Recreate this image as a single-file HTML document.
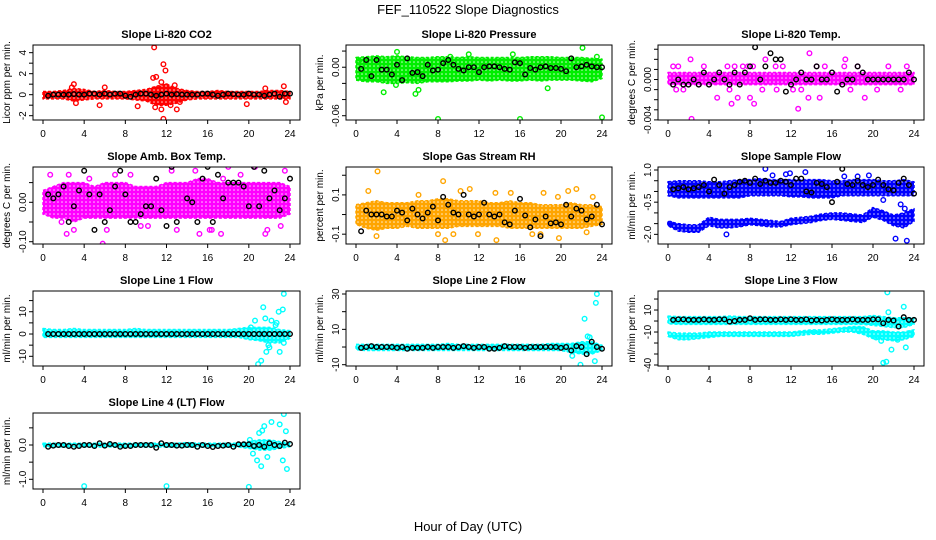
<!DOCTYPE html>
<html><head><meta charset="utf-8"><style>
html,body{margin:0;padding:0;background:#fff;}
svg{display:block;font-family:"Liberation Sans",sans-serif;}
</style></head><body>
<svg id="chart" width="936" height="540" viewBox="0 0 936 540" xmlns="http://www.w3.org/2000/svg">
<defs id="defs"></defs>
<text x="468" y="14" text-anchor="middle" font-size="13">FEF_110522  Slope Diagnostics</text>
<text x="468" y="531" text-anchor="middle" font-size="13">Hour of Day (UTC)</text>
</svg>
<script>
const xTicks=[0,4,8,12,16,20,24];
const bandHours=[0,1,2,3,4,5,6,7,8,9,10,11,12,13,14,15,16,17,18,19,20,21,22,23,24];
// Panel 1 CO2
const co2BandHi=[0.3,0.3,0.4,0.6,0.5,0.3,0.4,0.3,0.3,0.4,0.5,0.8,1.0,0.6,0.4,0.3,0.3,0.4,0.3,0.3,0.3,0.3,0.4,0.4,0.3];
const co2BandLo=[-0.4,-0.4,-0.4,-0.6,-0.5,-0.4,-0.4,-0.4,-0.4,-0.5,-0.6,-1.0,-1.0,-0.8,-0.5,-0.4,-0.4,-0.4,-0.4,-0.4,-0.4,-0.4,-0.4,-0.4,-0.4];
const co2OutX=[10.8,11.7,11.9,10.7,11.0,11.5,11.7,11.5,12.0,12.8,13.0,5.5,3.0,3.2,9.2,10.9,19.8,21.6,23.4,23.6,6.0,2.8,12.4,13.3];
const co2OutY=[4.5,2.9,2.3,1.6,1.7,1.2,-2.3,-1.4,0.8,0.9,-1.4,-1.0,1.0,-0.8,-1.1,-1.2,-0.9,0.6,0.8,-0.7,0.7,0.7,-1.0,-0.7];
const co2Black=[-0.1,0,0,0,0,0.05,0,0,0.1,0.1,0,0.1,0,0.1,0.1,-0.1,-0.2,0,0.1,0.1,0,-0.1,0,0.1,0,0.05,0,0,0,0,0.1,0.1,0,-0.1,0,0.1,0.05,0,0,0.1,0,0,-0.1,0,0.1,-0.2,0.1,0.1];
// Panel 2 pressure
const presBandHi=[0.012,0.013,0.014,0.013,0.014,0.013,0.012,0.012,0.013,0.013,0.012,0.013,0.012,0.012,0.012,0.012,0.012,0.013,0.013,0.013,0.012,0.012,0.012,0.011,0.010];
const presBandLo=[-0.016,-0.018,-0.018,-0.020,-0.020,-0.019,-0.020,-0.018,-0.018,-0.018,-0.017,-0.017,-0.016,-0.017,-0.016,-0.017,-0.017,-0.016,-0.017,-0.016,-0.016,-0.016,-0.017,-0.018,-0.014];
const presOutX=[8,16,24,22.1,4,5.8,2.7,6.1,18.7,15.3,11,23.5,0.3,3.9,9.2];
const presOutY=[-0.064,-0.064,-0.062,0.024,0.019,-0.033,-0.031,-0.028,-0.026,0.016,0.016,0.013,0.008,-0.022,0.013];
const presBlack=[-0.002,0.009,-0.011,0.009,-0.003,-0.003,-0.009,0.003,-0.016,0.011,-0.007,-0.006,-0.011,0.003,-0.004,-0.003,0.005,0.009,0.003,-0.002,-0.004,0,0,-0.006,0,0.001,0.001,0,-0.002,-0.003,0.006,0.005,-0.009,-0.001,-0.003,0,0.001,-0.001,-0.001,-0.002,-0.005,0.011,0,0.001,0.003,0.001,0,0];
// Panel 3 Li-820 temp
const tempBandHi=[0.0007,0.0007,0.0007,0.0007,0.0007,0.0007,0.0007,0.0007,0.0007,0.0007,0.0007,0.0007,0.0007,0.0007,0.0007,0.0007,0.0007,0.0007,0.0007,0.0007,0.0007,0.0007,0.0007,0.0007,0.0007];
const tempBandLo=[-0.0005,-0.0005,-0.0005,-0.0005,-0.0005,-0.0005,-0.0005,-0.0005,-0.0005,-0.0005,-0.0005,-0.0005,-0.0005,-0.0005,-0.0005,-0.0005,-0.0005,-0.0005,-0.0005,-0.0005,-0.0005,-0.0005,-0.0005,-0.0005,-0.0005];
const tempOutX=[2.3,12.7,13.8,17.3,8.4,6.2,13.7,0.5,1.0,2.2,3.5,5.8,6.5,7.3,7.8,8.3,9.5,10.5,11.2,14.5,15.3,17.2,18.5,21.5,23.3,0.8,1.5,4.8,6.0,6.8,8.0,9.2,10.6,12.2,13.0,14.8,17.8,19.2,20.4,22.7];
const tempOutY=[-0.0039,-0.0029,0.0026,0.002,-0.0024,-0.0024,-0.0018,0.0013,0.0013,0.002,0.0013,0.0013,0.0013,0.0013,0.0013,0.0013,0.002,0.0013,0.0013,0.0013,0.0013,0.0013,0.0013,0.0013,0.0013,-0.001,-0.001,-0.0018,-0.001,-0.0018,-0.0018,-0.001,-0.001,-0.001,-0.001,-0.0018,-0.001,-0.0018,-0.001,-0.001];
const tempBlack=[-0.0005,0,-0.0005,-0.0005,0,-0.0005,0.0007,-0.0005,0,0.0007,0,-0.0005,0.0007,-0.0005,0.0007,0.0013,0.0032,0,0.0013,0.0026,0.002,0.002,-0.0012,-0.0005,0,0.0007,0,0,0.0013,0,0,0.0007,-0.0012,-0.0005,0,0,0.0013,0.0007,0,0,0,0,0,0,0,0,0.0007,0];
// Panel 4 amb box temp
const ambBandHi=[0.03,0.04,0.05,0.05,0.05,0.04,0.05,0.05,0.05,0.04,0.04,0.04,0.05,0.05,0.05,0.06,0.06,0.05,0.05,0.05,0.05,0.05,0.05,0.05,0.04];
const ambBandLo=[-0.03,-0.04,-0.04,-0.05,-0.04,-0.04,-0.04,-0.04,-0.04,-0.04,-0.04,-0.04,-0.04,-0.04,-0.04,-0.04,-0.04,-0.04,-0.04,-0.04,-0.04,-0.04,-0.04,-0.04,-0.03];
const ambOutX=[0.7,2.5,2.3,3.0,5.8,4.5,6.2,8.5,9.5,12.5,13.0,14.8,15.2,15.9,16.4,17.3,17.5,18.0,19.2,20.6,21.6,22.3,22.8,23.1,23.5,1.8,7.0,10.2,16.2,21.8];
const ambOutY=[0.07,0.07,-0.08,-0.07,-0.105,0.06,-0.07,0.07,-0.06,0.08,-0.07,0.08,-0.08,0.1,-0.07,-0.08,0.06,0.09,0.07,0.09,-0.08,0.1,0.1,-0.06,0.08,-0.05,0.07,-0.06,-0.07,-0.07];
const ambBlack=[0.02,0.01,0.02,0.04,-0.05,-0.01,0.03,0.08,0.02,-0.07,0.02,-0.05,-0.02,0.04,0.08,0.02,-0.05,-0.05,-0.03,-0.01,-0.01,0.06,-0.02,-0.06,0.09,-0.05,0.10,0.01,0,-0.05,0.06,0.09,-0.05,0.07,0.01,0.05,0.05,0.05,0.04,-0.01,0.09,-0.01,0.08,0.01,0.03,-0.02,0.01,0.06];
// Panel 5 gas stream RH
const rhBandHi=[0.05,0.06,0.07,0.06,0.06,0.06,0.07,0.07,0.08,0.08,0.07,0.07,0.07,0.06,0.06,0.07,0.06,0.06,0.05,0.05,0.05,0.06,0.05,0.05,0.04];
const rhBandLo=[-0.05,-0.07,-0.08,-0.07,-0.07,-0.06,-0.07,-0.07,-0.07,-0.07,-0.06,-0.06,-0.06,-0.06,-0.06,-0.07,-0.07,-0.07,-0.07,-0.07,-0.07,-0.07,-0.07,-0.06,-0.05];
const rhOutX=[2.1,8.5,1.2,6.1,10.2,11.1,13.6,15.1,18.3,19.7,20.7,21.5,23.1,8.0,8.7,9.5,11.9,13.7,17.2,18.0,19.8,22.5,2.0];
const rhOutY=[0.22,0.17,0.12,0.1,0.12,0.13,0.11,0.11,0.11,0.09,0.12,0.13,0.09,-0.1,-0.13,-0.1,-0.1,-0.13,-0.1,-0.1,-0.12,-0.09,-0.11];
const rhBlack=[-0.085,0.02,0,0,0,-0.01,-0.01,0.02,0.01,-0.03,0.03,0,-0.02,0.01,0.04,-0.03,0.09,0.05,0.01,0,0.1,0,-0.01,0,0.06,0,-0.01,0,-0.04,-0.05,0.02,0.08,-0.005,-0.065,-0.025,-0.11,-0.01,-0.045,-0.04,-0.05,0.05,-0.01,0.03,0.02,-0.025,-0.01,0.05,-0.05];
// Panel 6 sample flow (two clusters)
const flowBandHi=[0.45,0.5,0.5,0.5,0.45,0.45,0.5,0.55,0.55,0.6,0.55,0.55,0.55,0.55,0.55,0.55,0.5,0.5,0.55,0.55,0.55,0.5,0.5,0.55,0.45];
const flowBandLo=[-0.2,-0.3,-0.3,-0.3,-0.3,-0.3,-0.3,-0.3,-0.2,-0.2,-0.2,-0.2,-0.25,-0.25,-0.3,-0.3,-0.3,-0.2,-0.2,-0.2,-0.2,-0.2,-0.2,-0.2,-0.2];
const flowLowHi=[-1.4,-1.5,-1.55,-1.55,-1.2,-1.3,-1.3,-1.3,-1.25,-1.3,-1.35,-1.4,-1.25,-1.2,-1.15,-1.05,-1.0,-1.0,-1.05,-1.1,-0.75,-0.9,-1.1,-1.0,-0.8];
const flowLowLo=[-1.6,-1.85,-1.9,-1.9,-1.6,-1.7,-1.7,-1.65,-1.55,-1.6,-1.65,-1.65,-1.55,-1.5,-1.45,-1.35,-1.3,-1.35,-1.4,-1.45,-1.2,-1.35,-1.6,-1.7,-1.4];
const flowOutX=[9.5,10.2,11.5,11.9,13.4,17.2,18.5,19.6,22.2,23.3,22.7,23.1,21.0,5.7,0.2];
const flowOutY=[1.05,0.75,0.8,0.85,0.9,0.7,0.7,0.75,-2.2,-2.3,-0.6,-0.8,-0.4,-2.0,-1.5];
const flowBlack=[0.1,0.15,0.2,0.1,0.15,0.2,0.3,0.0,0.55,0.3,-0.1,0.2,0.3,0.45,0.5,0.4,0.6,0.35,0.5,0.4,0.4,0.5,0.45,0.3,0.6,0.6,0,-0.05,0.4,0.35,0.2,-0.5,0.45,1.05,0.35,0.3,0.5,0.3,0.2,0.3,0.55,0.3,0.1,0.05,0.4,0.6,0.3,-0.1];
// Panel 7 line 1
const l1BandHi=[2.5,2,2,2.5,2,2,2,2,2,2.5,2,2,2,2,2,2,2,2,2,2.5,3,3,3,2,1.5];
const l1BandLo=[-1.5,-1.5,-1.5,-1.5,-1.5,-1.5,-1.5,-1.5,-1.5,-1.5,-1.5,-1.5,-1.5,-1.5,-1.5,-1.5,-1.5,-1.5,-1.5,-1.5,-2.5,-3,-4,-4,-2];
const l1OutX=[23.4,21.4,21.6,23.3,22.9,20.6,22.2,22.7,22.6,21.9,21.2,20.9,21.7,23.0,23.4,22.0,20.2];
const l1OutY=[18,12,7,11,10,6,6,5,4,-5,-12,-13.5,-8,-8,-4,-6,3];
const l1Black=[0,0,0,0,0,0,0,0,0,0,0,0,0,0,0,0,0,0,0,0,0,0,0,0,0,0,0,0,0,0,0,0,0,0,0,0,0,0,0,0,0,0,0,0,0,0,0,0];
// Panel 8 line 2
const l2BandHi=[1.5,1.5,1.5,1.5,1.5,1.5,1.5,1.5,1.5,2,1.5,1.5,1.5,1.5,1.5,1.5,1.5,1.5,1.5,2,2,2,3,3,1];
const l2BandLo=[-1.5,-2,-2,-2,-2,-2,-2,-2,-2,-2,-2,-2,-2,-2,-2,-2,-2,-2,-2,-2,-2,-3,-4,-4,-2];
const l2OutX=[23.5,23.4,22.3,22.6,22.8,23.3,21.9,21.1,22.5];
const l2OutY=[30,25,16,6,5.5,-8,-10,-5,-4];
const l2Black=[-0.5,0,0.5,0,0,0,0,-0.5,0,-1,-0.5,-0.5,-0.5,0,-0.5,0,0,0,-0.5,0,0.5,0,-0.5,0,0,-1,-1,-0.5,0.5,0,0,0,-0.5,0,0,0,0,0,0,-0.5,0,-2,0.5,0,-4,3,0,-1];
// Panel 9 line 3
const l3BandHi=[4.5,4,4,4,4,4,4.5,4,4,4,4,4,4,4,4,4,4,4,4,4,5,4,3,3,3];
const l3BandLo=[-2.5,-3,-3,-3,-3,-3,-3,-3,-3,-3,-3,-3,-3,-3,-3,-3,-3,-3,-3,-3,-4,-5,-6,-6,-3];
const l3LowHi=[-10,-11,-11,-11,-10,-10,-10,-10,-10,-10,-10,-10,-10,-9,-8,-8,-7,-6,-5,-5,-9,-9,-10,-10,-8];
const l3LowLo=[-14,-17,-17,-16,-15,-14,-14,-14,-14,-14,-14,-14,-14,-13,-12,-12,-11,-10,-10,-12,-16,-17,-18,-17,-14];
const l3OutX=[21.4,21.5,23.0,21.0,21.3,21.8,22.4,23.2,23.6,20.8,20.3];
const l3OutY=[26,8,13,-38,-37,-26,-17,-24,-11,-18,-15];
const l3Black=[1,1.5,1.5,1,1,1,1.5,1,1,1.5,1.5,-0.5,0,1,1,2.5,1,1.5,1.5,1,1,1.5,1,1.5,1,1,1.5,0.5,1,0.5,1,1.5,1,1,1,1.5,1,1,1,1.5,1.5,-2,1,0.5,-5,3.5,1,1];
// Panel 10 line 4 (LT)
const l4BandHi=[0.05,0.05,0.05,0.05,0.05,0.05,0.05,0.05,0.05,0.05,0.05,0.05,0.05,0.05,0.07,0.05,0.05,0.05,0.05,0.05,0.1,0.15,0.15,0.1,0.05];
const l4BandLo=[-0.05,-0.06,-0.06,-0.06,-0.06,-0.06,-0.06,-0.06,-0.06,-0.06,-0.06,-0.06,-0.06,-0.06,-0.06,-0.06,-0.06,-0.06,-0.06,-0.06,-0.1,-0.15,-0.15,-0.1,-0.05];
const l4OutX=[4,12,20,23.4,22.2,23,21.5,23.6,21,23.3,23.7,21.2,20.8,21.8,20.4,21.3,20.1];
const l4OutY=[-1.2,-1.2,-1.22,0.9,0.67,0.6,0.55,0.4,0.35,-0.45,-0.7,-0.62,-0.45,-0.35,-0.25,0.42,0.15];
const l4Black=[-0.05,-0.02,0,0,-0.03,-0.05,-0.03,0,0,-0.03,0.05,-0.02,0.03,0,-0.05,-0.03,-0.03,0,0,0,0,-0.08,0.05,0,0,-0.02,-0.02,0,0,-0.05,0,-0.03,-0.06,-0.03,-0.02,0,-0.05,0.02,0.02,0.02,-0.03,0,-0.05,0.05,0,-0.03,0.07,0.03];

const blackHours=[];for(let i=1;i<=48;i++)blackHours.push(i*0.5);

const panels=[
 {name:'co2',title:'Slope Li-820 CO2',ylab:'Licor ppm per min.',col:'#ff0000',L:33,R:300,T:45,B:120,y0:-2.41,y1:4.73,ticks:[-2,-1,0,1,2,3,4],tl:['-2','','0','','2','','4'],bands:[[co2BandHi,co2BandLo]],ox:co2OutX,oy:co2OutY,bk:co2Black},
 {name:'pressure',title:'Slope Li-820 Pressure',ylab:'kPa per min.',col:'#00ee00',L:346,R:612,T:45,B:120,y0:-0.0653,y1:0.0275,ticks:[0.02,0,-0.02,-0.04,-0.06],tl:['','0.00','','','-0.06'],bands:[[presBandHi,presBandLo]],ox:presOutX,oy:presOutY,bk:presBlack},
 {name:'li820-temp',title:'Slope Li-820 Temp.',ylab:'degrees C per min.',col:'#ff00ff',L:658,R:924,T:45,B:120,y0:-0.00401,y1:0.00342,ticks:[0.003,0.002,0.001,0,-0.001,-0.002,-0.003,-0.004],tl:['','','','0.000','','','','-0.004'],bands:[[tempBandHi,tempBandLo]],ox:tempOutX,oy:tempOutY,bk:tempBlack},
 {name:'amb-box-temp',title:'Slope Amb. Box Temp.',ylab:'degrees C per min.',col:'#ff00ff',L:33,R:300,T:167,B:244,y0:-0.1058,y1:0.0896,ticks:[0.05,0,-0.05,-0.1],tl:['','0.00','','-0.10'],bands:[[ambBandHi,ambBandLo]],ox:ambOutX,oy:ambOutY,bk:ambBlack},
 {name:'gas-stream-rh',title:'Slope Gas Stream RH',ylab:'percent per min.',col:'#ffa500',L:346,R:612,T:167,B:244,y0:-0.150,y1:0.242,ticks:[0.2,0.1,0,-0.1],tl:['','0.1','','-0.1'],bands:[[rhBandHi,rhBandLo]],ox:rhOutX,oy:rhOutY,bk:rhBlack},
 {name:'sample-flow',title:'Slope Sample Flow',ylab:'ml/min per min.',col:'#0000ff',L:658,R:924,T:167,B:244,y0:-2.45,y1:1.14,ticks:[1,0.5,0,-0.5,-1,-1.5,-2],tl:['1.0','','','-0.5','','','-2.0'],bands:[[flowBandHi,flowBandLo],[flowLowHi,flowLowLo]],ox:flowOutX,oy:flowOutY,bk:flowBlack},
 {name:'line1-flow',title:'Slope Line 1 Flow',ylab:'ml/min per min.',col:'#00ffff',L:33,R:300,T:291,B:366,y0:-14.35,y1:19.3,ticks:[15,10,5,0,-5,-10],tl:['','10','','0','','-10'],bands:[[l1BandHi,l1BandLo]],ox:l1OutX,oy:l1OutY,bk:l1Black},
 {name:'line2-flow',title:'Slope Line 2 Flow',ylab:'ml/min per min.',col:'#00ffff',L:346,R:612,T:291,B:366,y0:-10.74,y1:31.7,ticks:[30,20,10,0,-10],tl:['30','','10','','-10'],bands:[[l2BandHi,l2BandLo]],ox:l2OutX,oy:l2OutY,bk:l2Black},
 {name:'line3-flow',title:'Slope Line 3 Flow',ylab:'ml/min per min.',col:'#00ffff',L:658,R:924,T:291,B:366,y0:-40.9,y1:27.3,ticks:[20,10,0,-10,-20,-30,-40],tl:['','10','','-10','','','-40'],bands:[[l3BandHi,l3BandLo],[l3LowHi,l3LowLo]],ox:l3OutX,oy:l3OutY,bk:l3Black},
 {name:'line4-flow',title:'Slope Line 4 (LT) Flow',ylab:'ml/min per min.',col:'#00ffff',L:33,R:300,T:413,B:489,y0:-1.283,y1:0.933,ticks:[0.5,0,-0.5,-1],tl:['','0.0','','-1.0'],bands:[[l4BandHi,l4BandLo]],ox:l4OutX,oy:l4OutY,bk:l4Black}
];

const NS='http://www.w3.org/2000/svg';
const svg=document.getElementById('chart');
const defs=document.getElementById('defs');
function mk(tag,attrs,parent){const e=document.createElementNS(NS,tag);for(const k in attrs)e.setAttribute(k,attrs[k]);parent.appendChild(e);return e;}

panels.forEach(p=>{
 const g=mk('g',{},svg);
 
 
 const xs=h=>p.L+10+(h/24)*(p.R-p.L-20);
 const ys=v=>p.B-(v-p.y0)/(p.y1-p.y0)*(p.B-p.T);
 // ring texture pattern for dense point bands
 const pat=mk('pattern',{id:'pat-'+p.name,width:4,height:4,patternUnits:'userSpaceOnUse'},defs);
 mk('rect',{x:0,y:0,width:4,height:4,fill:p.col},pat);
 mk('circle',{cx:2,cy:2,r:0.8,fill:'#fff','fill-opacity':'0.8'},pat);
 const cp=mk('clipPath',{id:'clip-'+p.name},g);
 mk('rect',{x:p.L,y:p.T,width:p.R-p.L,height:p.B-p.T},cp);
 const pg=mk('g',{'clip-path':'url(#clip-'+p.name+')'},g);
 
 
 p.bands.forEach((b,bi)=>{
  let pts=bandHours.map((h,i)=>xs(h)+','+ys(b[0][i]));
  pts=pts.concat(bandHours.slice().reverse().map((h,j)=>{const i=bandHours.length-1-j;return xs(h)+','+ys(b[1][i]);}));
  const poly=mk('polygon',{points:pts.join(' '),fill:'url(#pat-'+p.name+')',stroke:p.col,'stroke-width':'1.5','stroke-linejoin':'round','stroke-dasharray':'3 2'},pg);
  
  
 });
 p.ox.forEach((h,i)=>{
  const c=mk('circle',{cx:xs(h),cy:ys(p.oy[i]),r:2.3,fill:'none',stroke:p.col,'stroke-width':'1.4'},pg);
  
  
 });
 blackHours.forEach((h,i)=>{
  const c=mk('circle',{cx:xs(h),cy:ys(p.bk[i]),r:2.3,fill:'none',stroke:'#000','stroke-width':'1.4'},pg);
  
  
 });
 const box=mk('rect',{x:p.L,y:p.T,width:p.R-p.L,height:p.B-p.T,fill:'none',stroke:'#000','stroke-width':'1'},g);
 
 
 const t=mk('text',{x:(p.L+p.R)/2,y:p.T-7,'text-anchor':'middle','font-size':'11','font-weight':'bold'},g);
 t.textContent=p.title;
 
 
 const yl=mk('text',{x:0,y:0,'text-anchor':'middle','font-size':'10',transform:'translate('+(p.L-23)+','+((p.T+p.B)/2)+') rotate(-90)'},g);
 yl.textContent=p.ylab;
 
 
 p.ticks.forEach((v,i)=>{
  const y=ys(v);
  mk('line',{x1:p.L-4,x2:p.L,y1:y,y2:y,stroke:'#000','stroke-width':'1'},g);
  if(p.tl[i]){
   const tt=mk('text',{x:0,y:0,'text-anchor':'middle','font-size':'10',transform:'translate('+(p.L-7)+','+y+') rotate(-90)'},g);
   tt.textContent=p.tl[i];
   
   
  }
 });
 xTicks.forEach(h=>{
  const x=xs(h);
  mk('line',{x1:x,x2:x,y1:p.B,y2:p.B+4,stroke:'#000','stroke-width':'1'},g);
  const tt=mk('text',{x:x,y:p.B+17,'text-anchor':'middle','font-size':'10'},g);
  tt.textContent=String(h);
  
  
 });
});
</script>
</body></html>
